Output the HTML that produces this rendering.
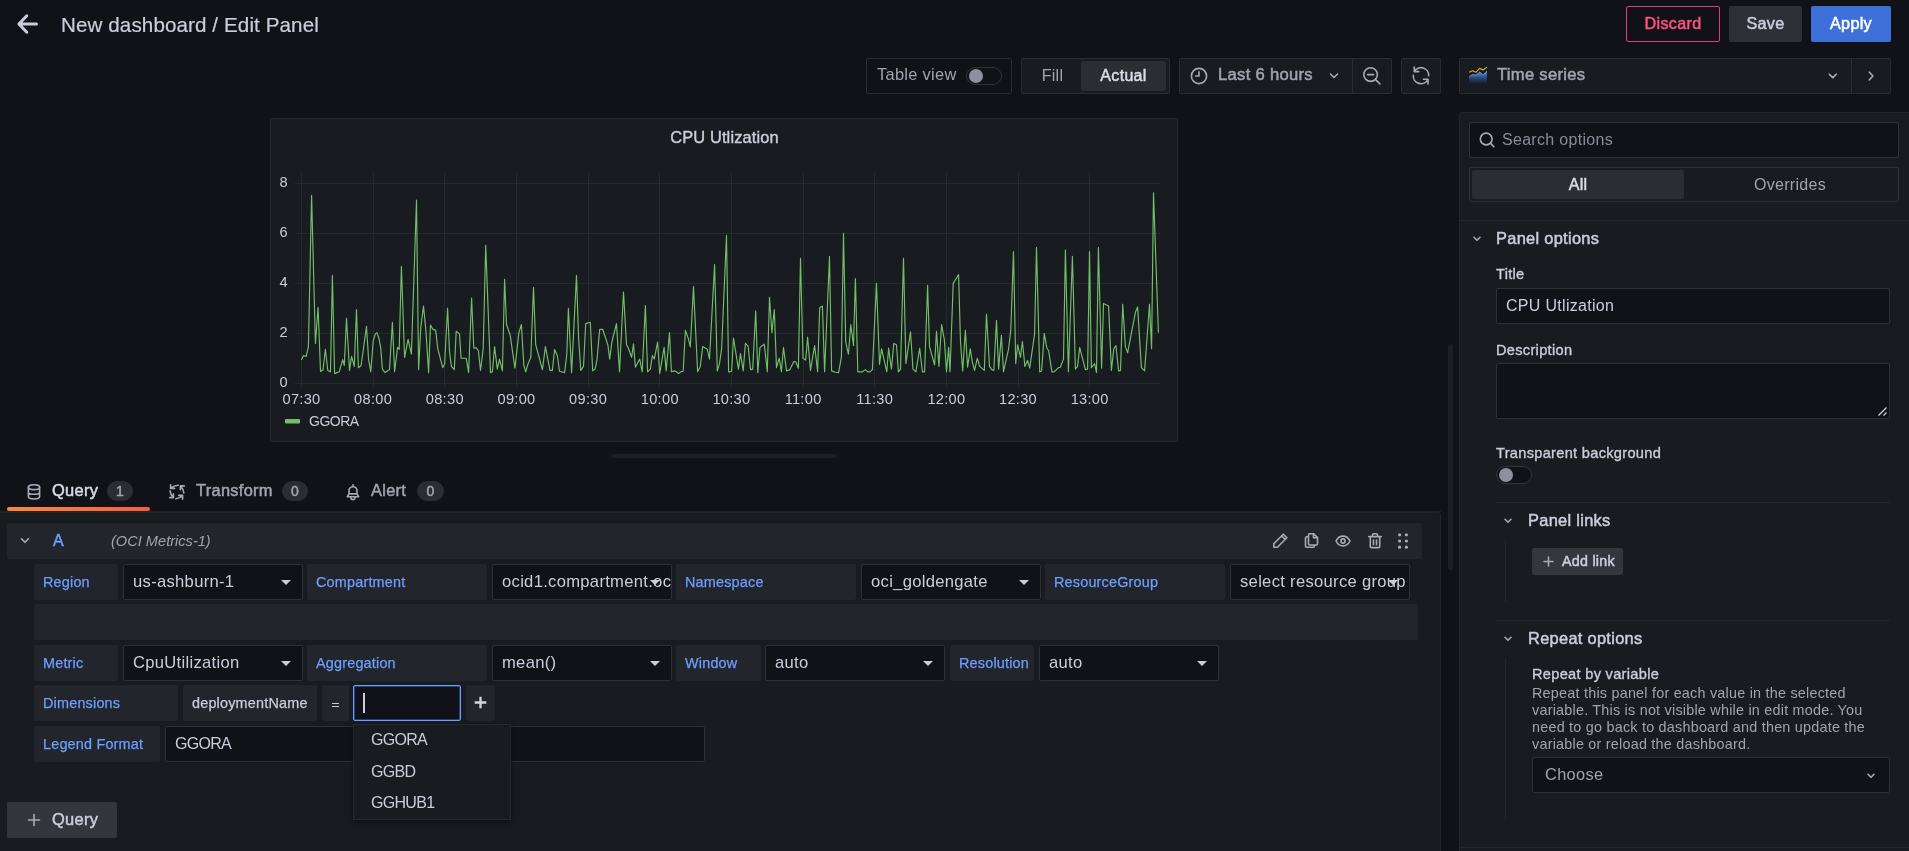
<!DOCTYPE html>
<html><head><meta charset="utf-8"><title>Edit Panel</title>
<style>
*{box-sizing:border-box;margin:0;padding:0}
html,body{width:1909px;height:851px;overflow:hidden;background:#111217;}
body{font-family:"Liberation Sans",sans-serif;color:#ccccdc;font-size:15.4px;position:relative;letter-spacing:0.3px}
.m{-webkit-text-stroke:0.5px currentColor}
.abs{position:absolute}
.box{position:absolute;display:flex;align-items:center;white-space:nowrap;overflow:hidden}
.bd{border:1px solid #2a2c32}
.lbl{background:#22252b;color:#6e9fff;border-radius:2px;font-size:14.4px;-webkit-text-stroke:0.25px currentColor;padding-left:9px;letter-spacing:0.2px}
.sel{background:#111217;border:1px solid #2e3036;border-radius:2px;font-size:16.6px;padding-left:9px;color:#ccccdc}
.sel:after{content:"";position:absolute;right:11px;top:15px;border:5px solid transparent;border-top:5.5px solid #ccccdc;border-bottom:0}
.btn{position:absolute;display:flex;align-items:center;justify-content:center;border-radius:2px;font-size:16.2px;padding-bottom:1px;-webkit-text-stroke:0.5px currentColor}
.sec{color:#a2a3b0}
svg{position:absolute;overflow:visible}
.ic{fill:none;stroke:#a9aab8;stroke-width:1.6;stroke-linecap:round;stroke-linejoin:round}
</style></head><body><div id="root" style="position:absolute;left:0;top:0;width:1909px;height:851px;overflow:hidden;will-change:transform">

<!-- ===== header ===== -->
<svg id="back" style="left:16px;top:13px" width="23" height="22" viewBox="0 0 23 22"><path d="M20.500 11H3.800M10.800 2.800L2.900 11l7.900 8.200" fill="none" stroke="#ccccdc" stroke-width="3" stroke-linecap="round" stroke-linejoin="round"/></svg>
<div id="ttl" class="abs" style="left:61px;top:11px;font-size:20.6px;line-height:26px;letter-spacing:0.1px;-webkit-text-stroke:0.2px currentColor;padding-top:0.500px;white-space:nowrap">New dashboard / Edit Panel</div>

<div id="discard" class="btn" style="left:1626px;top:6px;width:94px;height:36px;border:1px solid #e0406e;color:#ff5286;">Discard</div>
<div id="save" class="btn" style="left:1729px;top:6px;width:73px;height:36px;background:#2e3037;color:#ccccdc;">Save</div>
<div id="apply" class="btn" style="left:1811px;top:6px;width:80px;height:36px;background:#3d71d9;color:#fff;">Apply</div>

<!-- ===== toolbar ===== -->
<div id="tv" class="box bd" style="left:866px;top:58px;width:146px;height:36px;border-radius:2px;background:#111217"><span class="sec" style="margin-left:10px;font-size:16.400px;position:relative;top:-2px">Table view</span></div>
<div class="abs" style="left:966px;top:67px;width:36px;height:18px;border-radius:9px;border:1px solid #2f3138;background:#111217"></div>
<div class="abs" style="left:969px;top:69px;width:14px;height:14px;border-radius:7px;background:#8f909e"></div>

<div id="fa" class="box bd" style="left:1021px;top:58px;width:149px;height:36px;border-radius:2px;background:#181b1f"></div>
<div class="box sec" style="left:1024px;top:61px;width:57px;height:30px;justify-content:center;font-size:16px;background:#181b1f">Fill</div>
<div class="box" style="left:1081px;top:61px;width:85px;height:30px;justify-content:center;font-size:16px;-webkit-text-stroke:0.5px currentColor;background:#2b2d33;border-radius:2px;color:#dcdce8">Actual</div>

<div id="tp" class="box bd" style="left:1179px;top:58px;width:174px;height:36px;border-radius:2px 0 0 2px;background:#181b1f"><span class="sec" style="margin-left:38px;font-size:16.6px;-webkit-text-stroke:0.5px currentColor;position:relative;top:-1px">Last 6 hours</span></div>
<svg style="left:1190px;top:66.500px" width="18" height="18" viewBox="0 0 18 18"><circle cx="9" cy="9" r="7.6" class="ic" stroke-width="1.5"/><path d="M9 4.8V9H5.6" class="ic" stroke-width="1.5"/></svg>
<svg style="left:1328px;top:72px" width="12" height="8" viewBox="0 0 12 8"><path d="M2.500 2l3.500 3.500 3.500-3.500" class="ic" stroke-width="1.7"/></svg>
<div id="zo" class="box bd" style="left:1352px;top:58px;width:40px;height:36px;border-radius:0 2px 2px 0;background:#181b1f"></div>
<svg style="left:1362px;top:65.500px" width="20" height="20" viewBox="0 0 20 20"><circle cx="8.6" cy="8.6" r="6.8" class="ic" stroke-width="1.5"/><path d="M13.6 13.6L18 18M5.6 8.6h6" class="ic" stroke-width="1.5"/></svg>
<div id="rf" class="box bd" style="left:1401px;top:58px;width:40px;height:36px;border-radius:2px;background:#181b1f"></div>
<svg style="left:1411px;top:66px" width="20" height="20" viewBox="0 0 20 20"><path d="M3.300 1v4.600h4.500M3.300 5.600A7.700 7.700 0 0 1 17.700 9.800M2.300 9.200A7.700 7.700 0 0 0 16.900 13.300M12.400 13.300h4.600v4.700" class="ic" stroke-width="1.600"/></svg>

<div id="vz" class="box bd" style="left:1459px;top:58px;width:432px;height:36px;border-radius:2px;background:#181b1f"><span class="sec" style="margin-left:37px;font-size:16.6px;-webkit-text-stroke:0.5px currentColor;position:relative;top:-1px">Time series</span></div>
<div class="abs" style="left:1851px;top:59px;width:1px;height:34px;background:#2a2c32"></div>
<svg style="left:1468px;top:66px" width="20" height="18" viewBox="0 0 20 18"><defs><linearGradient id="tsg" x1="0" y1="0" x2="0" y2="1"><stop offset="0" stop-color="#5b9bf5"/><stop offset="0.35" stop-color="#3564ac"/><stop offset="1" stop-color="#1f3a78" stop-opacity="0.15"/></linearGradient></defs><path d="M1.100 11L4.500 8.400l3.400.8 3.900-3.200 3.400 2.900 3.700-3.900v12.800H1.100z" fill="url(#tsg)"/><path d="M1.100 11L4.500 8.400l3.400.8 3.900-3.200 3.400 2.900 3.700-3.900" fill="none" stroke="#7db2f8" stroke-width="0.700"/><path d="M1.100 6.300L4.500 4.700l3.400 1.600 3.700-3.900 3.400 1.500 3.900-2.600" fill="none" stroke="#e9a21f" stroke-width="1.150" stroke-linejoin="round"/></svg>
<svg style="left:1827px;top:72px" width="11" height="8" viewBox="0 0 11 8"><path d="M2.300 2.200l3.500 3.400 3.500-3.400" class="ic" stroke-width="1.6"/></svg>
<svg style="left:1867px;top:70px" width="8" height="12" viewBox="0 0 8 12"><path d="M2.200 2l3.700 4-3.700 4" class="ic" stroke-width="1.6"/></svg>

<!-- ===== chart panel ===== -->
<div id="panel" class="abs" style="left:270px;top:118px;width:908px;height:324px;background:#181b1f;border:1px solid #25272d;border-radius:3px"></div>
<div id="ptitle" class="abs" style="left:270px;top:126px;width:908px;text-align:center;font-size:16.4px;-webkit-text-stroke:0.4px currentColor;line-height:20px;color:#ccccdc;top:126.500px;letter-spacing:0.15px;padding-left:1px">CPU Utlization</div>
<svg id="chart" style="left:0;top:0" width="1909" height="851" viewBox="0 0 1909 851">
<g stroke="#26292e" stroke-width="1" shape-rendering="crispEdges">
<line x1="301.5" y1="173" x2="301.5" y2="387"/>
<line x1="373.5" y1="173" x2="373.5" y2="387"/>
<line x1="444.5" y1="173" x2="444.5" y2="387"/>
<line x1="516.5" y1="173" x2="516.5" y2="387"/>
<line x1="588.5" y1="173" x2="588.5" y2="387"/>
<line x1="659.5" y1="173" x2="659.5" y2="387"/>
<line x1="731.5" y1="173" x2="731.5" y2="387"/>
<line x1="803.5" y1="173" x2="803.5" y2="387"/>
<line x1="874.5" y1="173" x2="874.5" y2="387"/>
<line x1="946.5" y1="173" x2="946.5" y2="387"/>
<line x1="1018.5" y1="173" x2="1018.5" y2="387"/>
<line x1="1089.5" y1="173" x2="1089.5" y2="387"/>
<line x1="295" y1="183.5" x2="1160" y2="183.5"/>
<line x1="295" y1="233.5" x2="1160" y2="233.5"/>
<line x1="295" y1="283.5" x2="1160" y2="283.5"/>
<line x1="295" y1="333.5" x2="1160" y2="333.5"/>
<line x1="295" y1="383.5" x2="1160" y2="383.5"/>
</g>
<polyline points="301.4,360.1 303.5,355.5 306.2,356.4 308.4,346.6 311.6,195.3 315.4,343.4 318.1,307.4 320.5,371.5 323.0,369.9 325.4,349.3 327.8,370.4 330.5,371.8 332.4,275.3 334.6,373.6 339.2,371.8 342.7,359.6 344.3,365.5 346.5,318.2 349.5,370.4 351.6,356.4 354.3,366.4 356.5,309.6 358.4,367.7 361.1,365.5 366.5,326.4 368.6,359.6 370.8,371.8 373.2,340.7 375.4,333.9 377.0,332.6 379.2,339.3 380.8,348.8 382.4,369.1 385.1,372.6 389.5,369.6 392.4,322.3 394.6,371.8 397.6,347.4 399.2,349.3 401.4,266.4 404.6,357.4 408.1,339.3 411.4,354.2 416.5,200.1 418.6,369.6 420.8,327.2 423.5,306.1 425.9,330.4 428.6,372.6 430.5,325.0 432.7,329.1 435.7,330.4 437.8,348.8 442.7,367.7 444.6,364.2 447.6,308.2 449.5,351.5 451.4,366.4 454.3,369.6 456.2,331.2 459.5,333.9 461.1,358.2 466.2,358.2 468.6,372.6 471.6,298.0 473.8,348.2 475.9,347.7 478.4,350.7 480.5,370.4 483.2,348.8 485.7,245.3 490.5,372.6 492.4,371.8 494.6,346.6 497.3,369.1 499.5,359.1 502.4,370.9 504.6,279.3 506.5,324.5 509.7,333.9 510.0,333.9 514.9,368.2 518.9,332.6 521.4,324.5 523.8,365.0 525.7,371.8 528.1,363.6 530.8,357.4 533.5,287.4 535.7,344.7 542.4,369.6 545.4,346.6 550.0,370.4 552.4,370.4 554.6,349.6 557.3,355.5 559.5,371.2 564.6,372.6 566.8,354.2 568.4,308.2 571.6,372.6 576.5,275.3 578.6,338.0 580.8,370.4 583.5,366.4 585.7,323.6 590.3,322.3 592.7,370.9 595.1,369.1 597.0,359.6 599.7,329.3 602.7,329.3 607.8,344.7 609.7,359.1 611.9,342.0 616.5,323.6 619.5,371.8 623.5,292.0 626.5,344.7 628.4,348.2 631.6,357.4 633.5,343.9 635.4,367.2 639.7,359.1 642.2,371.8 645.4,305.5 647.6,371.8 650.3,369.1 652.4,355.5 654.3,359.1 657.6,342.0 659.7,373.6 664.1,347.4 666.2,370.9 669.5,332.6 671.4,371.8 674.3,370.9 676.5,371.8 678.6,373.6 680.8,371.8 683.2,371.2 685.4,330.4 688.4,338.8 690.3,346.9 693.5,286.6 697.6,371.8 700.3,366.4 702.7,346.6 707.3,349.3 709.5,359.1 714.6,264.5 717.3,370.9 719.5,363.6 721.6,348.8 726.5,235.3 728.6,371.8 730.0,371.8 731.6,371.2 733.5,338.0 738.4,369.1 740.5,353.6 743.2,370.9 745.4,343.4 748.1,346.1 750.5,369.6 752.7,369.1 755.7,310.9 757.8,372.6 760.0,347.4 764.3,344.2 767.3,371.8 769.5,297.4 771.9,332.6 774.3,309.6 776.5,367.7 779.2,358.2 781.4,371.8 783.5,347.4 786.5,370.9 790.0,369.6 793.8,361.5 795.7,361.8 798.4,368.2 800.5,258.2 803.0,358.2 805.7,360.1 807.6,337.2 810.5,370.4 814.6,345.5 817.6,371.8 819.7,307.7 822.4,306.1 824.6,371.8 829.5,256.4 831.6,370.9 835.4,372.3 838.6,372.6 841.4,356.9 843.5,233.4 845.7,342.0 848.4,354.2 850.8,324.5 853.5,345.5 855.4,278.5 857.8,371.8 862.4,371.8 865.4,369.6 867.8,371.8 870.0,371.8 872.4,369.6 876.5,283.4 879.5,364.5 881.6,348.8 886.8,371.8 888.6,348.0 891.4,369.1 893.8,343.4 896.5,344.7 898.4,371.8 900.5,369.1 903.5,258.2 905.9,363.6 910.5,331.8 913.0,369.1 915.9,371.8 919.7,348.2 922.4,371.8 924.6,371.8 927.6,285.3 929.5,346.6 934.6,365.0 936.5,331.2 938.9,366.4 941.6,324.5 944.3,339.3 946.5,371.8 948.6,347.4 950.0,371.8 953.2,283.4 958.6,274.5 960.5,342.0 962.7,370.9 965.4,330.4 967.6,367.2 970.3,348.8 972.4,362.3 974.6,370.4 977.3,358.2 979.7,366.4 984.3,370.4 986.5,314.2 989.5,366.4 991.9,369.6 993.8,370.4 996.5,320.4 998.6,369.1 1001.4,335.3 1003.5,371.8 1008.6,348.8 1010.8,329.9 1013.5,251.5 1015.7,363.6 1017.6,344.7 1020.5,357.4 1022.4,341.5 1024.9,366.4 1027.6,360.4 1029.7,368.2 1034.6,333.9 1036.5,247.4 1039.7,371.8 1041.6,370.9 1044.3,333.4 1046.8,348.0 1048.6,350.7 1051.9,371.8 1054.1,371.8 1058.4,367.7 1060.3,367.2 1063.5,359.1 1065.4,250.1 1068.4,371.8 1072.4,256.4 1075.4,369.1 1077.6,366.4 1079.7,347.4 1085.4,369.6 1087.6,369.1 1089.5,251.5 1091.4,367.7 1094.6,363.6 1096.5,372.6 1098.4,247.4 1101.6,368.2 1103.5,303.4 1108.6,306.1 1111.4,370.4 1113.8,348.8 1115.9,345.5 1118.6,370.9 1120.5,370.4 1122.7,304.2 1125.4,346.6 1127.6,352.8 1135.4,312.3 1137.6,306.9 1141.4,367.7 1144.6,370.9 1149.5,304.2 1151.6,348.8 1153.5,192.8 1158.4,332.6" fill="none" stroke="#73bf69" stroke-width="1.15" stroke-linejoin="round"/>
<g font-family="Liberation Sans, sans-serif" font-size="14.6" fill="#ccccdc" letter-spacing="0.3">
<text x="288" y="187.0" text-anchor="end">8</text>
<text x="288" y="237.0" text-anchor="end">6</text>
<text x="288" y="287.0" text-anchor="end">4</text>
<text x="288" y="337.0" text-anchor="end">2</text>
<text x="288" y="387.0" text-anchor="end">0</text>
<text x="301.5" y="404" text-anchor="middle">07:30</text>
<text x="373.1" y="404" text-anchor="middle">08:00</text>
<text x="444.8" y="404" text-anchor="middle">08:30</text>
<text x="516.5" y="404" text-anchor="middle">09:00</text>
<text x="588.1" y="404" text-anchor="middle">09:30</text>
<text x="659.8" y="404" text-anchor="middle">10:00</text>
<text x="731.4" y="404" text-anchor="middle">10:30</text>
<text x="803.1" y="404" text-anchor="middle">11:00</text>
<text x="874.7" y="404" text-anchor="middle">11:30</text>
<text x="946.4" y="404" text-anchor="middle">12:00</text>
<text x="1018.0" y="404" text-anchor="middle">12:30</text>
<text x="1089.7" y="404" text-anchor="middle">13:00</text>
</g>
<rect x="285" y="419" width="15" height="4.5" rx="1" fill="#73bf69"/>
<text x="309" y="426" font-family="Liberation Sans, sans-serif" font-size="14" letter-spacing="-0.5" fill="#ccccdc">GGORA</text>
</svg>
<div class="abs" style="left:611px;top:454px;width:226px;height:4px;border-radius:2px;background:#1d1f25"></div>
<div class="abs" style="left:1448px;top:344px;width:5px;height:226px;border-radius:3px;background:#1d1f25"></div>

<!-- ===== tabs ===== -->
<div class="abs" style="left:0;top:511px;width:1441px;height:1px;background:#22242a"></div>
<svg style="left:26px;top:483px" width="16" height="18" viewBox="0 0 16 18"><ellipse cx="8" cy="4.200" rx="5.600" ry="2.400" class="ic" stroke="#ccccdc" stroke-width="1.500"/><path d="M2.400 4.200v9.400c0 1.300 2.500 2.400 5.600 2.400s5.600-1.100 5.600-2.400V4.200M2.400 8.900c0 1.300 2.500 2.400 5.600 2.400s5.600-1.100 5.600-2.400" class="ic" stroke="#ccccdc" stroke-width="1.500"/></svg>
<div id="tq" class="abs" style="left:52px;top:480px;font-size:16.4px;-webkit-text-stroke:0.5px currentColor;line-height:20px;color:#dcdce8">Query</div>
<div class="box" style="left:107px;top:481px;width:26px;height:20px;border-radius:10px;background:#2b2d33;justify-content:center;font-size:14px;-webkit-text-stroke:0.5px currentColor;color:#a2a3b0">1</div>
<div class="abs" style="left:7px;top:507px;width:143px;height:4px;border-radius:2px;background:linear-gradient(90deg,#ff8833,#f55f3e)"></div>

<svg style="left:169px;top:484px" width="16" height="16" viewBox="0 0 16 16"><path d="M1.600 0.700v3.700h4M1.900 4.100Q4.600 1.600 9.200 1.300M15.300 1.900h-3.900v3.900M11.800 2.300Q14.400 5 14.800 9M13.600 15.300v-3.900h-3.900M13.300 11.800Q11 14.400 6.900 14.800M0.700 13.600h3.700v-3.700M4 13.300Q1.500 10.800 1.100 6.900" class="ic" stroke-width="1.350" stroke-linecap="butt" stroke-linejoin="miter"/></svg>
<div id="tt" class="abs sec" style="left:196px;top:480px;font-size:16.4px;-webkit-text-stroke:0.5px currentColor;line-height:20px;">Transform</div>
<div class="box" style="left:282px;top:481px;width:26px;height:20px;border-radius:10px;background:#2b2d33;justify-content:center;font-size:14px;-webkit-text-stroke:0.5px currentColor;color:#a2a3b0">0</div>

<svg style="left:346px;top:484px" width="14" height="16" viewBox="0 0 14 16"><path d="M7 0.900v1.600M3 9.900V6.700a4 4 0 0 1 8 0v3.200M3 9.900h8l1.700 2.800H1.300zM4.900 13.500a2.100 2.100 0 0 0 4.200 0" class="ic" stroke-width="1.300"/></svg>
<div id="ta" class="abs sec" style="left:371px;top:480px;font-size:16.4px;-webkit-text-stroke:0.5px currentColor;line-height:20px;">Alert</div>
<div class="box" style="left:417px;top:481px;width:27px;height:20px;border-radius:10px;background:#2b2d33;justify-content:center;font-size:14px;-webkit-text-stroke:0.5px currentColor;color:#a2a3b0">0</div>

<!-- ===== query editor ===== -->
<div id="qc" class="abs" style="left:-1px;top:512px;width:1442px;height:345px;background:#181b1f;border:1px solid #22242a;border-radius:0 3px 0 0"></div>
<div id="qh" class="abs" style="left:7px;top:523px;width:1415px;height:36px;background:#22252b;border-radius:2px"></div>
<svg style="left:20px;top:537px" width="10" height="8" viewBox="0 0 10 8"><path d="M1.500 1.800l3.500 3.500 3.500-3.500" class="ic" stroke-width="1.5"/></svg>
<div id="qa" class="abs" style="left:53px;top:531px;font-size:16px;-webkit-text-stroke:0.5px currentColor;line-height:20px;color:#6e9fff">A</div>
<div id="qds" class="abs sec" style="left:111px;top:531px;font-size:14.600px;font-style:italic;line-height:20px;letter-spacing:0">(OCI Metrics-1)</div>

<svg style="left:1272px;top:533px" width="16" height="16" viewBox="0 0 16 16"><path d="M11.300 1.200l3.600 3.600-9.500 9.500H1.800v-3.600zM9.600 2.900l3.600 3.600" class="ic" stroke-width="1.400"/></svg>
<svg style="left:1303px;top:532px" width="17" height="17" viewBox="0 0 17 17"><path d="M5.500 3.800V3c0-.7.500-1.200 1.200-1.200h4L14.500 5.600v6.200c0 .7-.5 1.200-1.200 1.200H6.700c-.7 0-1.200-.5-1.200-1.200zM10.500 2v3.800h3.800M11.500 13v1c0 .7-.5 1.200-1.200 1.200H3.700c-.7 0-1.200-.5-1.200-1.200V6c0-.7.500-1.200 1.200-1.200h1.800" class="ic" stroke-width="1.400"/></svg>
<svg style="left:1334px;top:534px" width="18" height="14" viewBox="0 0 18 14"><path d="M2 7C3.600 3.900 6.100 2.100 9 2.100S14.400 3.900 16 7C14.400 10.100 11.900 11.900 9 11.900S3.600 10.100 2 7z" class="ic" stroke-width="1.400"/><circle cx="9" cy="7" r="2.100" class="ic" stroke-width="1.500"/></svg>
<svg style="left:1367px;top:532px" width="16" height="18" viewBox="0 0 16 18"><path d="M1.800 4.600h12.400M5.500 4.400V3c0-.7.500-1.200 1.200-1.200h2.600c.7 0 1.200.5 1.200 1.200v1.400M3.300 4.800v9.600c0 .7.500 1.200 1.200 1.200h7c.7 0 1.200-.5 1.200-1.200V4.800M6.500 8v4.600M9.500 8v4.600" class="ic" stroke-width="1.400"/></svg>
<svg style="left:1397px;top:532px" width="12" height="18" viewBox="0 0 12 18"><g fill="#a9aab8"><circle cx="2.600" cy="2.800" r="1.600"/><circle cx="9.400" cy="2.800" r="1.600"/><circle cx="2.600" cy="9" r="1.600"/><circle cx="9.400" cy="9" r="1.600"/><circle cx="2.600" cy="15.200" r="1.600"/><circle cx="9.400" cy="15.200" r="1.600"/></g></svg>

<!-- row 1 -->
<div class="box lbl" style="left:34px;top:564px;width:84px;height:36px">Region</div>
<div class="box sel" style="left:123px;top:564px;width:180px;height:36px">us-ashburn-1</div>
<div class="box lbl" style="left:307px;top:564px;width:180px;height:36px">Compartment</div>
<div class="box sel" style="left:492px;top:564px;width:180px;height:36px">ocid1.compartment.oc</div>
<div class="box lbl" style="left:676px;top:564px;width:180px;height:36px">Namespace</div>
<div class="box sel" style="left:861px;top:564px;width:180px;height:36px">oci_goldengate</div>
<div class="box lbl" style="left:1045px;top:564px;width:180px;height:36px">ResourceGroup</div>
<div class="box sel" style="left:1230px;top:564px;width:180px;height:36px">select resource group</div>
<div class="abs" style="left:34px;top:604px;width:1384px;height:36px;background:#22252b;border-radius:2px"></div>
<!-- row 2 -->
<div class="box lbl" style="left:34px;top:645px;width:84px;height:36px">Metric</div>
<div class="box sel" style="left:123px;top:645px;width:180px;height:36px">CpuUtilization</div>
<div class="box lbl" style="left:307px;top:645px;width:180px;height:36px">Aggregation</div>
<div class="box sel" style="left:492px;top:645px;width:180px;height:36px">mean()</div>
<div class="box lbl" style="left:676px;top:645px;width:85px;height:36px">Window</div>
<div class="box sel" style="left:765px;top:645px;width:180px;height:36px">auto</div>
<div class="box lbl" style="left:950px;top:645px;width:84px;height:36px">Resolution</div>
<div class="box sel" style="left:1039px;top:645px;width:180px;height:36px">auto</div>
<!-- row 3 -->
<div class="box lbl" style="left:34px;top:685px;width:144px;height:36px">Dimensions</div>
<div class="box lbl" style="left:183px;top:685px;width:134px;height:36px;color:#ccccdc">deploymentName</div>
<div class="box lbl" style="left:322px;top:685px;width:27px;height:36px;color:#ccccdc;padding-left:0;padding-top:2px;justify-content:center;font-size:13.600px">=</div>
<div class="abs" style="left:353px;top:685px;width:108px;height:36px;background:#111217;border:1px solid #6e9fff;border-radius:2px;box-shadow:0 0 0 0.5px #3d71d9 inset"></div>
<div class="abs" style="left:363px;top:693px;width:1.500px;height:20px;background:#ccccdc"></div>
<div class="box lbl" style="left:466px;top:685px;width:29px;height:36px;padding-left:0"></div>
<svg style="left:474px;top:696px" width="13" height="13" viewBox="0 0 13 13"><path d="M6.500 0.700v11.600M0.700 6.500h11.600" stroke="#d5d5e2" stroke-width="2.300" fill="none"/></svg>
<!-- row 4 -->
<div class="box lbl" style="left:34px;top:726px;width:126px;height:36px">Legend Format</div>
<div class="box" style="left:165px;top:726px;width:540px;height:36px;background:#111217;border:1px solid #2e3036;border-radius:2px;font-size:16px;letter-spacing:-0.7px;padding-left:9px">GGORA</div>
<!-- dropdown -->
<div id="dd" class="abs" style="left:353px;top:724px;width:158px;height:96px;background:#181b1f;border:1px solid #25272d;box-shadow:0 2px 5px rgba(0,0,0,.5)"></div>
<div class="abs" style="left:371px;top:730px;font-size:16px;letter-spacing:-0.7px;line-height:20px">GGORA</div>
<div class="abs" style="left:371px;top:762px;font-size:16px;letter-spacing:-0.7px;line-height:20px">GGBD</div>
<div class="abs" style="left:371px;top:793px;font-size:16px;letter-spacing:-0.7px;line-height:20px">GGHUB1</div>
<!-- add query -->
<div class="btn" style="left:7px;top:802px;width:110px;height:36px;background:#34363d;color:#ccccdc;justify-content:flex-start;padding-left:45px;font-size:16.400px">Query</div>
<svg style="left:27px;top:813px" width="14" height="14" viewBox="0 0 14 14"><path d="M7 1.500v11M1.500 7h11" class="ic" stroke="#ccccdc" stroke-width="1.500"/></svg>

<!-- ===== right pane ===== -->
<div id="rp" class="abs" style="left:1459px;top:112px;width:460px;height:750px;background:#181b1f;border:1px solid #22242a;border-radius:3px 0 0 0"></div>
<div class="box" style="left:1469px;top:122px;width:430px;height:36px;background:#111217;border:1px solid #2e3036;border-radius:2px"><span style="margin-left:32px;font-size:16px;color:#8a8b99">Search options</span></div>
<svg style="left:1478px;top:131px" width="18" height="18" viewBox="0 0 18 18"><circle cx="8.200" cy="8" r="5.900" class="ic" stroke="#9c9dab" stroke-width="1.500"/><path d="M12.600 12.400L15.800 15.600" class="ic" stroke="#9c9dab" stroke-width="1.500"/></svg>
<div class="box" style="left:1469px;top:167px;width:430px;height:35px;background:#181b1f;border:1px solid #2e3036;border-radius:2px"></div>
<div class="box" style="left:1472px;top:170px;width:212px;height:29px;background:#2b2d33;border-radius:2px;justify-content:center;font-size:16px;-webkit-text-stroke:0.5px currentColor;color:#dcdce8">All</div>
<div class="box sec" style="left:1684px;top:170px;width:212px;height:29px;justify-content:center;font-size:16px;">Overrides</div>
<div class="abs" style="left:1460px;top:220px;width:449px;height:1px;background:#24262c"></div>

<svg style="left:1472px;top:235px" width="10" height="8" viewBox="0 0 10 8"><path d="M2 2.300l3 3 3-3" class="ic" stroke-width="1.500"/></svg>
<div class="abs" style="left:1496px;top:228px;font-size:16.400px;-webkit-text-stroke:0.5px currentColor;line-height:20px">Panel options</div>
<div class="abs" style="left:1496px;top:265px;font-size:14.600px;-webkit-text-stroke:0.35px currentColor;line-height:18px">Title</div>
<div class="box" style="left:1496px;top:288px;width:394px;height:36px;background:#111217;border:1px solid #2e3036;border-radius:2px;font-size:16px;padding-left:9px">CPU Utlization</div>
<div class="abs" style="left:1496px;top:341px;font-size:14.600px;-webkit-text-stroke:0.35px currentColor;line-height:18px">Description</div>
<div class="box" style="left:1496px;top:363px;width:394px;height:56px;background:#111217;border:1px solid #2e3036;border-radius:2px"></div>
<svg style="left:1876px;top:405px" width="12" height="12" viewBox="0 0 12 12"><path d="M2.500 10.500l8-8M7.500 10.500l3-3" stroke="#ccccdc" stroke-width="1.300" fill="none"/></svg>
<div class="abs" style="left:1496px;top:444px;font-size:14.600px;-webkit-text-stroke:0.35px currentColor;line-height:18px">Transparent background</div>
<div class="abs" style="left:1496px;top:466px;width:36px;height:18px;border-radius:9px;border:1px solid #34363d;background:#111217"></div>
<div class="abs" style="left:1499px;top:468px;width:14px;height:14px;border-radius:7px;background:#8f909e"></div>
<div class="abs" style="left:1496px;top:502px;width:394px;height:1px;background:#24262c"></div>

<svg style="left:1503px;top:517px" width="10" height="8" viewBox="0 0 10 8"><path d="M2 2.300l3 3 3-3" class="ic" stroke-width="1.500"/></svg>
<div class="abs" style="left:1528px;top:510px;font-size:16.400px;-webkit-text-stroke:0.5px currentColor;line-height:20px">Panel links</div>
<div class="abs" style="left:1505px;top:540px;width:1px;height:62px;background:#24262c"></div>
<div class="btn" style="left:1532px;top:548px;width:91px;height:27px;background:#35373e;color:#ccccdc;font-size:14.200px;justify-content:flex-start;padding-left:30px">Add link</div>
<svg style="left:1543px;top:556px" width="11" height="11" viewBox="0 0 11 11"><path d="M5.500 1v9M1 5.500h9" class="ic" stroke="#ccccdc" stroke-width="1.300"/></svg>
<div class="abs" style="left:1496px;top:620px;width:394px;height:1px;background:#24262c"></div>

<svg style="left:1503px;top:635px" width="10" height="8" viewBox="0 0 10 8"><path d="M2 2.300l3 3 3-3" class="ic" stroke-width="1.500"/></svg>
<div class="abs" style="left:1528px;top:628px;font-size:16.400px;-webkit-text-stroke:0.5px currentColor;line-height:20px">Repeat options</div>
<div class="abs" style="left:1505px;top:658px;width:1px;height:162px;background:#24262c"></div>
<div class="abs" style="left:1532px;top:665px;font-size:14.600px;-webkit-text-stroke:0.35px currentColor;line-height:18px">Repeat by variable</div>
<div class="abs sec" style="left:1532px;top:685px;font-size:14.400px;line-height:17px;white-space:nowrap;letter-spacing:0.22px">Repeat this panel for each value in the selected<br>variable. This is not visible while in edit mode. You<br>need to go back to dashboard and then update the<br>variable or reload the dashboard.</div>
<div class="box" style="left:1532px;top:757px;width:358px;height:36px;background:#111217;border:1px solid #2e3036;border-radius:2px;font-size:16.400px;padding-left:12px;padding-bottom:2px;color:#a2a3b0">Choose</div>
<svg style="left:1866px;top:772px" width="10" height="8" viewBox="0 0 10 8"><path d="M2 2.300l3 3 3-3" class="ic" stroke-width="1.500"/></svg>
<div class="abs" style="left:1460px;top:847px;width:449px;height:1px;background:#24262c"></div>

</div></body></html>
